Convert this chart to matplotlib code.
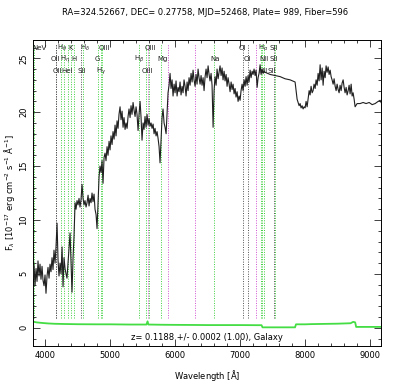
import matplotlib
matplotlib.use('Agg')
import matplotlib.pyplot as plt
from matplotlib.ticker import MultipleLocator

# spectrum (observed wavelength in Angstrom, flux in 1e-17 erg/cm2/s/A)
wave = [3815, 3831, 3846, 3862, 3877, 3892, 3908, 3923, 3938, 3954, 3969, 3985,
        4000, 4015, 4031, 4046, 4062, 4077, 4092, 4108, 4123, 4138, 4154, 4169, 4185,
        4200, 4215, 4231, 4246, 4262, 4277, 4292, 4308, 4323, 4338, 4354, 4369, 4385,
        4400, 4415, 4431, 4446, 4462, 4477, 4492, 4508, 4523, 4538, 4554, 4569, 4585,
        4600, 4615, 4631, 4646, 4662, 4677, 4692, 4708, 4723, 4738, 4754, 4769, 4785,
        4800, 4815, 4831, 4846, 4862, 4877, 4892, 4908, 4923, 4938, 4954, 4969, 4985,
        5000, 5015, 5031, 5046, 5062, 5077, 5092, 5108, 5123, 5138, 5154, 5169, 5185,
        5200, 5215, 5231, 5246, 5262, 5277, 5292, 5308, 5323, 5338, 5354, 5369, 5385,
        5400, 5415, 5431, 5446, 5462, 5477, 5492, 5508, 5523, 5538, 5554, 5569, 5585,
        5600, 5615, 5631, 5646, 5662, 5677, 5692, 5708, 5723, 5738, 5754, 5769, 5785,
        5800, 5815, 5831, 5846, 5862, 5877, 5892, 5908, 5923, 5938, 5954, 5969, 5985,
        6000, 6015, 6031, 6046, 6062, 6077, 6092, 6108, 6123, 6138, 6154, 6169, 6185,
        6200, 6215, 6231, 6246, 6262, 6277, 6292, 6308, 6323, 6338, 6354, 6369, 6385,
        6400, 6415, 6431, 6446, 6462, 6477, 6492, 6508, 6523, 6538, 6554, 6569, 6585,
        6600, 6615, 6631, 6646, 6662, 6677, 6692, 6708, 6723, 6738, 6754, 6769, 6785,
        6800, 6815, 6831, 6846, 6862, 6877, 6892, 6908, 6923, 6938, 6954, 6969, 6985,
        7000, 7015, 7031, 7046, 7062, 7077, 7092, 7108, 7123, 7138, 7154, 7169, 7185,
        7200, 7215, 7231, 7246, 7262, 7277, 7292, 7308, 7323, 7338, 7354, 7369, 7385,
        7462, 7538, 7615, 7692, 7769, 7846, 7862, 7877, 7892, 7908, 7923, 7938, 7954,
        7969, 7985, 8000, 8015, 8031, 8046, 8062, 8077, 8092, 8108, 8123, 8138, 8154,
        8169, 8185, 8200, 8215, 8231, 8246, 8262, 8277, 8292, 8308, 8323, 8338, 8354,
        8369, 8385, 8400, 8415, 8431, 8446, 8462, 8477, 8492, 8508, 8523, 8538, 8554,
        8569, 8585, 8600, 8615, 8631, 8646, 8662, 8677, 8692, 8708, 8723, 8738, 8754,
        8769, 8800, 8846, 8892, 8938, 8985, 9031, 9077, 9123, 9154, 9169]
flux = [4.6, 5.8, 3.9, 5.5, 4.3, 6.2, 4.8, 5.9, 4.5, 5.7, 4.4, 3.9,
        4.9, 3.2, 4.8, 5.6, 4.6, 5.9, 5.2, 6.5, 5.4, 7.2, 6.0, 7.5, 9.7,
        6.3, 4.8, 6.0, 5.0, 7.5, 3.8, 6.5, 5.5, 5.0, 4.6, 6.0, 7.2, 8.8,
        6.0, 3.3, 6.5, 8.5, 11.6, 11.0, 11.8, 11.4, 12.0, 11.2, 11.9, 13.3, 12.0,
        11.4, 11.8, 11.2, 11.6, 12.3, 11.3, 12.0, 11.6, 12.5, 11.7, 12.4, 11.0, 10.5,
        9.2, 11.5, 14.0, 15.0, 14.4, 15.5, 13.4, 15.8, 16.2, 15.5, 16.8, 16.0, 17.3,
        16.5, 17.8, 17.0, 18.2, 17.5, 18.8, 17.8, 19.2, 18.5, 19.8, 20.5, 19.3, 20.1,
        18.6, 19.5, 18.4, 19.0, 18.5, 19.6, 20.3, 19.5, 20.6, 19.8, 20.9, 20.2, 19.6,
        20.5, 19.8, 18.3, 19.8, 21.0, 19.5, 17.4, 19.0, 18.4, 19.6, 18.6, 19.8, 18.8,
        19.4, 18.7, 19.0, 18.5, 18.9, 18.0, 18.5, 17.8, 18.2, 17.6, 16.8, 15.3, 17.5,
        19.5, 20.3, 19.0, 18.6, 18.0, 19.8, 21.8, 22.5, 23.6, 22.2, 23.0, 21.5, 22.6,
        21.8, 22.9, 21.5, 22.3, 21.9, 22.8, 21.6, 22.4, 21.8, 23.0, 22.4, 21.5, 22.8,
        22.0, 23.2, 22.5, 23.6, 22.8, 23.9, 23.0, 22.4, 23.5, 22.6, 24.0, 23.2, 22.6,
        23.4, 22.5, 23.2, 22.0, 23.3, 24.0, 23.2, 24.3, 23.5, 22.9, 23.6, 22.5, 18.6,
        22.0, 23.3, 22.5, 24.0, 23.1, 23.7, 24.3, 23.4, 24.1, 23.0, 23.8, 22.9, 23.5,
        22.4, 23.2, 22.6, 21.9, 22.8, 22.1, 22.6, 21.7, 22.2, 21.4, 21.9, 21.0, 21.5,
        21.1, 22.0, 22.6, 22.0, 23.0, 22.4, 23.3, 22.5, 23.4, 22.8, 23.9, 23.2, 23.8,
        23.5, 24.0, 23.4, 23.9, 22.3, 23.2, 23.6, 24.4, 23.5, 24.0, 23.6, 23.8, 23.7,
        23.5, 23.4, 23.3, 23.1, 23.0, 22.8, 22.0, 21.2, 20.9, 20.6, 20.8, 20.4, 20.6,
        20.3, 20.5, 20.4, 21.0, 20.5, 21.2, 22.0, 21.6, 22.4, 21.8, 22.0, 22.6, 22.2,
        23.0, 22.5, 23.6, 22.9, 24.4, 23.0, 24.1, 22.5, 23.8, 23.2, 24.3, 23.7, 24.2,
        23.5, 23.9, 23.3, 23.0, 22.6, 23.1, 22.4, 22.0, 22.6, 22.1, 21.8, 22.5, 22.0,
        22.7, 23.0, 22.3, 21.8, 22.3, 21.6, 22.0, 22.5, 21.7, 22.6, 21.5, 21.8, 21.2,
        20.5, 20.8, 20.8, 20.9, 20.8, 20.9, 20.7, 20.8, 21.0, 21.1, 20.9]

# error spectrum
err_wave = [3815, 3830, 3870, 3950, 4050, 4150, 4300, 4500, 4800, 5000, 5300, 5560,
            5577, 5590, 5800, 6000, 6300, 6500, 6800, 7000, 7250, 7330, 7345, 7600,
            7845, 7860, 8000, 8100, 8300, 8500, 8700, 8740, 8770, 8785, 9000, 9169]
err = [0.6, 0.55, 0.5, 0.45, 0.4, 0.37, 0.35, 0.33, 0.32, 0.32, 0.3, 0.3,
       0.6, 0.3, 0.28, 0.27, 0.26, 0.25, 0.25, 0.25, 0.24, 0.24, 0.04, 0.04,
       0.04, 0.32, 0.32, 0.34, 0.36, 0.38, 0.42, 0.55, 0.5, 0.08, 0.08, 0.08]

# marked lines (observed wavelength, colour)
line_wave = [3833, 4169, 4172, 4249, 4291, 4351, 4401, 4441, 4556, 4589, 4816,
             4856, 4881, 5439, 5548, 5602, 5790, 6594, 7048, 7119, 7326, 7343,
             7365, 7514, 7531]
line_col = ['g', 'k', 'k', 'g', 'g', 'g', 'g', 'g', 'k', 'g', 'g',
            'g', 'g', 'g', 'g', 'g', 'g', 'g', 'k', 'k', 'g', 'g',
            'g', 'k', 'g']
sky_wave = [5577, 5892, 6300, 7244]

# line labels: text, wavelength, row
lab_text = ['NeV', r'H$_\theta$', 'K', r'H$_\delta$', 'OIII', 'OIII', 'OI', r'H$_\alpha$', 'SII',
            'OII', r'H$_\eta$', 'H', 'G', r'H$_\beta$', 'Mg', 'Na', 'OI', 'NII', 'SII',
            'OII', 'HeI', 'SII', r'H$_\gamma$', 'OIII', 'NII', 'SII']
lab_wave = [3915, 4262, 4392, 4608, 4915, 5615, 7031, 7362, 7515,
            4160, 4310, 4445, 4800, 5446, 5808, 6615, 7108, 7369, 7515,
            4185, 4338, 4562, 4869, 5577, 7346, 7485]
lab_row = [0, 0, 0, 0, 0, 0, 0, 0, 0,
           1, 1, 1, 1, 1, 1, 1, 1, 1, 1,
           2, 2, 2, 2, 2, 2, 2]

plt.rcParams['font.family'] = 'DejaVu Sans'
fig = plt.figure(figsize=(4.15, 3.88), dpi=100)
ax = fig.add_axes([0.0795, 0.108, 0.839, 0.789])

colors = {'g': '#3ccf3c', 'k': '#505050'}
for w, c in zip(line_wave, line_col):
    ax.plot([w, w], [0.9, 26.3], ls=(0, (1, 1.5)), lw=0.7, color=colors[c], zorder=1)
for w in sky_wave:
    ax.plot([w, w], [0.9, 26.3], ls=(0, (1, 1.5)), lw=0.7, color='#d050d0', zorder=1)

ax.plot(err_wave, err, color='#44dd44', lw=1.3, zorder=2)
ax.plot(wave, flux, color='#202020', lw=0.8, zorder=3)

row_y = [0.974, 0.938, 0.899]
for t, w, r in zip(lab_text, lab_wave, lab_row):
    ax.text(w, row_y[r], t, transform=ax.get_xaxis_transform(), ha='center', va='center',
            fontsize=5, color='#222222', zorder=4)

ax.set_xlim(3815, 9170)
ax.set_ylim(-1.7, 26.7)
ax.xaxis.set_major_locator(MultipleLocator(1000))
ax.xaxis.set_minor_locator(MultipleLocator(200))
ax.yaxis.set_major_locator(MultipleLocator(5))
ax.yaxis.set_minor_locator(MultipleLocator(1))
ax.tick_params(which='both', direction='in', top=True, right=True, labelsize=6, width=0.6, color='#222222')
ax.tick_params(which='major', length=5)
ax.tick_params(which='minor', length=2.5)
for lbl in ax.get_yticklabels():
    lbl.set_rotation(90)
    lbl.set_va('center')
for s in ax.spines.values():
    s.set_linewidth(0.7)

ax.set_xlabel(r'Wavelength [$\mathrm{\AA}$]', fontsize=6, labelpad=6)
ax.set_ylabel(r'F$_\lambda$ [10$^{-17}$ erg cm$^{-2}$ s$^{-1}$ $\mathrm{\AA}^{-1}$]', fontsize=6)
ax.yaxis.set_label_coords(-0.047, 0.5)
ax.text(0.5, 0.015, 'z= 0.1188 +/- 0.0002 (1.00), Galaxy', transform=ax.transAxes,
        ha='center', va='bottom', fontsize=6)
fig.text(0.495, 0.968, 'RA=324.52667, DEC= 0.27758, MJD=52468, Plate= 989, Fiber=596',
         ha='center', va='center', fontsize=6)

fig.savefig('out.png', dpi=100)
